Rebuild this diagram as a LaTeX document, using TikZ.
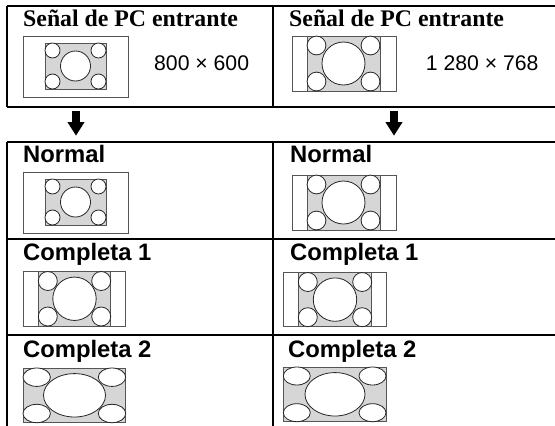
\documentclass[tikz,border=0pt]{standalone}
\usepackage{fontspec}
\setmainfont{Liberation Serif}
\setsansfont{Liberation Sans}
\usetikzlibrary{arrows.meta}
\definecolor{framegray}{HTML}{555555}
\definecolor{screengray}{HTML}{D6D6D6}
\tikzset{
  rule/.style={line width=1.4pt, black},
  frame/.style={draw=framegray, fill=white, line width=0.9pt},
  screen/.style={draw=framegray, fill=screengray, line width=0.9pt},
  disc/.style={draw=black!85, fill=white, line width=0.8pt},
  ttl/.style={anchor=base west, inner sep=0pt, font=\rmfamily\bfseries\fontsize{23.8}{28}\selectfont},
  lbl/.style={anchor=base west, inner sep=0pt, font=\sffamily\bfseries\fontsize{23.8}{28}\selectfont},
  res/.style={anchor=base west, inner sep=0pt, font=\sffamily\fontsize{21.2}{25}\selectfont},
  bigarrow/.style={line width=7.3pt, -{Triangle[width=16pt,length=13.5pt]}}
}
\begin{document}
\begin{tikzpicture}[x=1pt,y=-1pt]
\useasboundingbox (0,0) rectangle (555,426);
% table rules
\draw[rule] (7,6) -- (555,6);
\draw[rule] (7,107) -- (555,107);
\draw[rule] (7,142) -- (555,142);
\draw[rule] (7,239) -- (555,239);
\draw[rule] (7,335) -- (555,335);
\draw[rule] (7,6) -- (7,107);
\draw[rule] (273,6) -- (273,107);
\draw[rule] (7,142) -- (7,426);
\draw[rule] (273,142) -- (273,426);
% texts
\node[ttl] (t1) at (23,26.7) {Señal de PC entrante};
\node[ttl] (t2) at (289,26.7) {Señal de PC entrante};
\node[res] (r1) at (154,70) {800 × 600};
\node[res] (r2) at (425.7,70) {1 280 × 768};
\node[lbl] (n1) at (23,162.7) {Normal};
\node[lbl] (n2) at (290,162.7) {Normal};
\node[lbl] (c1) at (23,260) {Completa 1};
\node[lbl] (c2) at (290,260) {Completa 1};
\node[lbl] (d1) at (23,357.3) {Completa 2};
\node[lbl] (d2) at (288,357.3) {Completa 2};
% arrows
\coordinate (a1s) at (76,111);
\coordinate (a1e) at (76,135.7);
\coordinate (a2s) at (394,111);
\coordinate (a2e) at (394,135.7);
\draw[bigarrow] (a1s) -- (a1e);
\draw[bigarrow] (a2s) -- (a2e);
% Monitor A (top-left)
\draw[frame] (23,36) rectangle (128,97);
\draw[screen] (45,43) rectangle (106,89);
\draw[disc] (75.5,66) circle[radius=15pt];
\foreach \p in {(52.5,50.5),(98.5,50.5),(52.5,81.5),(98.5,81.5)} \draw[disc] \p circle[radius=7.5pt];
% Monitor B (Normal left)
\draw[frame] (23,172) rectangle (128,233);
\draw[screen] (45,179) rectangle (106,225);
\draw[disc] (75.5,202) circle[radius=15pt];
\foreach \p in {(52.5,186.5),(98.5,186.5),(52.5,217.5),(98.5,217.5)} \draw[disc] \p circle[radius=7.5pt];
% Monitor C (top-right)
\draw[frame] (292,36) rectangle (396,91);
\draw[screen] (307,36) rectangle (380,91);
\draw[disc] (343.5,63.5) circle[radius=21.5pt];
\foreach \p in {(316.5,45.5),(370.5,45.5),(316.5,81.5),(370.5,81.5)} \draw[disc] \p circle[radius=9.4pt];
% Monitor D (Normal right)
\draw[frame] (292,175) rectangle (396,230);
\draw[screen] (307,175) rectangle (380,230);
\draw[disc] (343.5,202.5) circle[radius=21.5pt];
\foreach \p in {(316.5,184.5),(370.5,184.5),(316.5,220.5),(370.5,220.5)} \draw[disc] \p circle[radius=9.4pt];
% Monitor E (Completa 1 left)
\draw[frame] (23,271.5) rectangle (125,326);
\draw[screen] (38.3,271.5) rectangle (110.7,326);
\draw[disc] (74.5,298.75) circle[radius=21.7pt];
\foreach \p in {(47.8,281),(101.2,281),(47.8,316.5),(101.2,316.5)} \draw[disc] \p circle[radius=9.5pt];
% Monitor F (Completa 1 right)
\draw[frame] (283.5,272.5) rectangle (386,326.7);
\draw[screen] (298.3,272.5) rectangle (371.7,326.7);
\draw[disc] (335,299.6) circle[radius=21.7pt];
\foreach \p in {(307.8,282),(362.2,282),(307.8,317.2),(362.2,317.2)} \draw[disc] \p circle[radius=9.5pt];
% Monitor G (Completa 2 left)
\draw[screen] (23,368) rectangle (125.7,422.7);
\draw[disc] (74.5,395.3) ellipse[x radius=31pt, y radius=21.7pt];
\foreach \p in {(36.7,377.2),(112,377.2),(36.7,413.5),(112,413.5)} \draw[disc] \p ellipse[x radius=13.7pt, y radius=9.2pt];
% Monitor H (Completa 2 right)
\draw[screen] (283.3,367) rectangle (386,421.7);
\draw[disc] (335,394.3) ellipse[x radius=30pt, y radius=21.7pt];
\foreach \p in {(296.8,376),(372.5,376),(296.8,412.7),(372.5,412.7)} \draw[disc] \p ellipse[x radius=13.5pt, y radius=9pt];
\end{tikzpicture}
\end{document}
